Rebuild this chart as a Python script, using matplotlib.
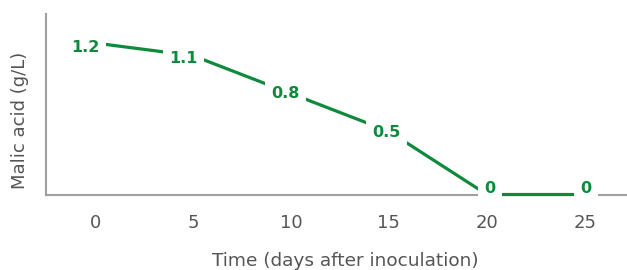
import matplotlib.pyplot as plt

# Datos
dias = [0, 5, 10, 15, 20, 25]
malico = [1.2, 1.1, 0.8, 0.5, 0, 0]
etiquetas = ["1.2", "1.1", "0.8", "0.5", "0", "0"]

verde = "#0f8a3c"
gris = "#555555"

plt.rcParams['font.family'] = ['DejaVu Sans']

fig = plt.figure(figsize=(6.27, 2.7), dpi=100)
ax = fig.add_axes([0.0734, 0.2796, 0.9266, 0.6685])

ax.plot(dias, malico, color=verde, linewidth=2.3, solid_capstyle="butt",
        clip_on=False, zorder=3)

# Etiquetas de valores con fondo blanco (desplazamiento en puntos)
desp = [(-7, -3), (-7, -2), (-4, 0), (-2, -1), (2, 4), (1, 4)]
for x, y, t, d in zip(dias, malico, etiquetas, desp):
    ax.annotate(t, (x, y), xytext=d, textcoords="offset points",
                ha="center", va="center", color=verde, fontsize=11.5,
                fontweight="bold", zorder=4, annotation_clip=False,
                bbox=dict(boxstyle="square,pad=0.4", facecolor="white", edgecolor="none"))

ax.set_xlim(-2.5, 27.15)
ax.set_ylim(0, 1.43)
ax.set_xticks(dias)
ax.set_yticks([])
ax.tick_params(axis="x", length=0, pad=14, labelsize=13, labelcolor=gris)

for lado in ["top", "right"]:
    ax.spines[lado].set_visible(False)
for lado in ["left", "bottom"]:
    ax.spines[lado].set_color("#a0a0a0")
    ax.spines[lado].set_linewidth(1.5)

ax.set_xlabel("Time (days after inoculation)", fontsize=13.3, color=gris)
ax.xaxis.set_label_coords(0.515, -0.32)
ax.set_ylabel("Malic acid (g/L)", fontsize=13, color=gris)
ax.yaxis.set_label_coords(-0.029, 0.41)

fig.savefig("out.png", dpi=100)
